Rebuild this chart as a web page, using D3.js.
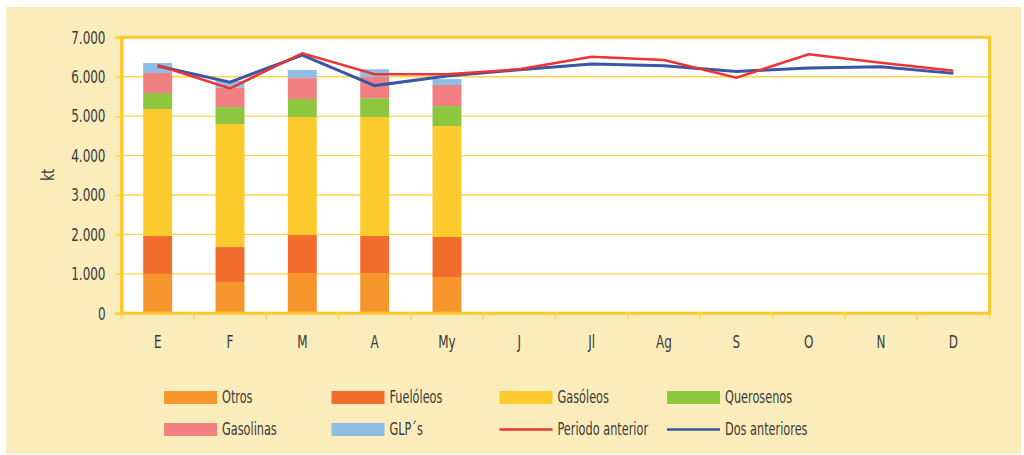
<!DOCTYPE html>
<html>
<head>
<meta charset="utf-8">
<script src="https://cdn.jsdelivr.net/npm/d3@7"></script>
<style>
  html, body { margin: 0; padding: 0; background: #ffffff; }
  svg text { font-family: "DejaVu Sans Condensed", "DejaVu Sans", sans-serif; fill: #3a3a3a; }
</style>
</head>
<body>
<svg id="chart" width="1024" height="455"></svg>
<script>
const months = ["E", "F", "M", "A", "My", "J", "Jl", "Ag", "S", "O", "N", "D"];
const seriesNames = ["Otros", "Fuelóleos", "Gasóleos", "Querosenos", "Gasolinas", "GLP´s"];
const seriesColors = ["#F7962D", "#F26C2C", "#FECB2E", "#8DC63F", "#F28083", "#8EBDE6"];
// bar values (kt), months E..My
const otros      = [1000,  795, 1020, 1020,  920];
const fueloleos  = [ 960,  885,  965,  940, 1015];
const gasoleos   = [3220, 3120, 2995, 3020, 2815];
const querosenos = [ 405,  430,  455,  475,  505];
const gasolinas  = [ 510,  490,  540,  540,  535];
const glp        = [ 255,  170,  195,  195,  150];
const periodoAnterior = [6290, 5705, 6595, 6065, 6060, 6190, 6505, 6425, 5975, 6570, 6355, 6150];
const dosAnteriores   = [6270, 5860, 6550, 5775, 6020, 6180, 6320, 6280, 6135, 6220, 6255, 6085];
const yTicks = [0, 1000, 2000, 3000, 4000, 5000, 6000, 7000];

const svg = d3.select("#chart");
const L = 121.5, R = 989.5, T = 37.3, B = 313.3;
const SX = 0.74; // horizontal condensing of text

function condense(sel, fs) {
  sel.each(function () {
    const t = d3.select(this);
    const xv = +t.attr("x") || 0;
    t.attr("x", 0).attr("font-size", fs)
      .attr("transform", `translate(${xv},0) scale(${SX},1)`);
  });
}

// outer cream panel
svg.append("rect").attr("x", 6).attr("y", 7).attr("width", 1015).attr("height", 447).attr("fill", "#FAEDBB");
// plot background
svg.append("rect").attr("x", L).attr("y", T).attr("width", R - L).attr("height", B - T).attr("fill", "#ffffff");

const x = d3.scaleBand().domain(months).range([L, R]).paddingInner(0.6).paddingOuter(0.3);
const y = d3.scaleLinear().domain([0, 7000]).range([B, T]);
const locale = d3.formatLocale({ decimal: ",", thousands: ".", grouping: [3] });
const fmt = locale.format(",d");

// gridlines
svg.append("g").selectAll("line").data(yTicks.filter(d => d > 0 && d < 7000)).join("line")
  .attr("x1", L).attr("x2", R).attr("y1", d => y(d)).attr("y2", d => y(d))
  .attr("stroke", "#FDD54A").attr("stroke-width", 1.3);

// stacked bars
const barRows = months.slice(0, otros.length).map((m, i) => ({
  month: m, "Otros": otros[i], "Fuelóleos": fueloleos[i], "Gasóleos": gasoleos[i],
  "Querosenos": querosenos[i], "Gasolinas": gasolinas[i], "GLP´s": glp[i]
}));
const stack = d3.stack().keys(seriesNames)(barRows);
svg.append("g").selectAll("g").data(stack).join("g")
  .attr("fill", (d, i) => seriesColors[i])
  .selectAll("rect").data(d => d).join("rect")
  .attr("x", d => x(d.data.month)).attr("width", x.bandwidth())
  .attr("y", d => y(d[1])).attr("height", d => y(d[0]) - y(d[1]));

// frame
svg.append("path").attr("d", `M${L},${B} L${L},${T} L${R},${T} L${R},${B}`)
  .attr("fill", "none").attr("stroke", "#FFC82C").attr("stroke-width", 3);

// y axis
const yAxis = svg.append("g").attr("transform", `translate(${L},0)`)
  .call(d3.axisLeft(y).tickValues(yTicks).tickFormat(fmt).tickSize(6).tickPadding(10));
yAxis.select(".domain").attr("stroke", "#FFC82C").attr("stroke-width", 3);
yAxis.selectAll(".tick line").attr("stroke", "#FDD54A").attr("stroke-width", 1.5);
yAxis.selectAll(".tick text").attr("fill", "#3a3a3a").attr("font-family", null).call(condense, 18);

// x axis
const xAxis = svg.append("g").attr("transform", `translate(0,${B})`)
  .call(d3.axisBottom(x).tickSize(0).tickPadding(22));
xAxis.select(".domain").remove();
xAxis.selectAll(".tick text").attr("fill", "#3a3a3a").attr("font-family", null).call(condense, 18);
svg.append("line").attr("x1", L - 1.5).attr("x2", R + 1.5).attr("y1", B).attr("y2", B)
  .attr("stroke", "#FFC82C").attr("stroke-width", 3);
// category boundary ticks
const bounds = months.map((m, i) => L + x.step() * i).concat([R]);
svg.append("g").selectAll("line").data(bounds).join("line")
  .attr("x1", d => d).attr("x2", d => d).attr("y1", B).attr("y2", B + 6)
  .attr("stroke", "#FDD54A").attr("stroke-width", 1.5);

// y label
svg.append("text").attr("transform", `translate(54,175) rotate(-90) scale(${SX},1)`)
  .attr("text-anchor", "middle").attr("font-size", 18).text("kt");

// lines
const cx = m => x(m) + x.bandwidth() / 2;
const lineGen = d3.line().x((d, i) => cx(months[i])).y(d => y(d));
svg.append("path").datum(dosAnteriores).attr("d", lineGen).attr("fill", "none")
  .attr("stroke", "#3A56A5").attr("stroke-width", 3).attr("stroke-linejoin", "miter");
svg.append("path").datum(periodoAnterior).attr("d", lineGen).attr("fill", "none")
  .attr("stroke", "#EE3333").attr("stroke-width", 2.5).attr("stroke-linejoin", "miter");

// legend
const legendItems = [
  { name: "Otros", type: "rect", color: seriesColors[0], col: 0, row: 0 },
  { name: "Fuelóleos", type: "rect", color: seriesColors[1], col: 1, row: 0 },
  { name: "Gasóleos", type: "rect", color: seriesColors[2], col: 2, row: 0 },
  { name: "Querosenos", type: "rect", color: seriesColors[3], col: 3, row: 0 },
  { name: "Gasolinas", type: "rect", color: seriesColors[4], col: 0, row: 1 },
  { name: "GLP´s", type: "rect", color: seriesColors[5], col: 1, row: 1 },
  { name: "Periodo anterior", type: "line", color: "#EE3333", col: 2, row: 1 },
  { name: "Dos anteriores", type: "line", color: "#3A56A5", col: 3, row: 1 }
];
const colX = [164, 331.5, 499.5, 667];
const rowY = [397.5, 429.5];
const lg = svg.append("g").selectAll("g").data(legendItems).join("g")
  .attr("transform", d => `translate(${colX[d.col]},${rowY[d.row]})`);
lg.filter(d => d.type === "rect").append("rect")
  .attr("x", 0).attr("y", -6.5).attr("width", 53).attr("height", 13).attr("fill", d => d.color);
lg.filter(d => d.type === "line").append("line")
  .attr("x1", 0).attr("x2", 53).attr("y1", 0).attr("y2", 0)
  .attr("stroke", d => d.color).attr("stroke-width", 2.5);
lg.append("text").attr("x", 58).attr("y", 0).attr("dy", "0.35em").text(d => d.name).call(condense, 17);
</script>
</body>
</html>
